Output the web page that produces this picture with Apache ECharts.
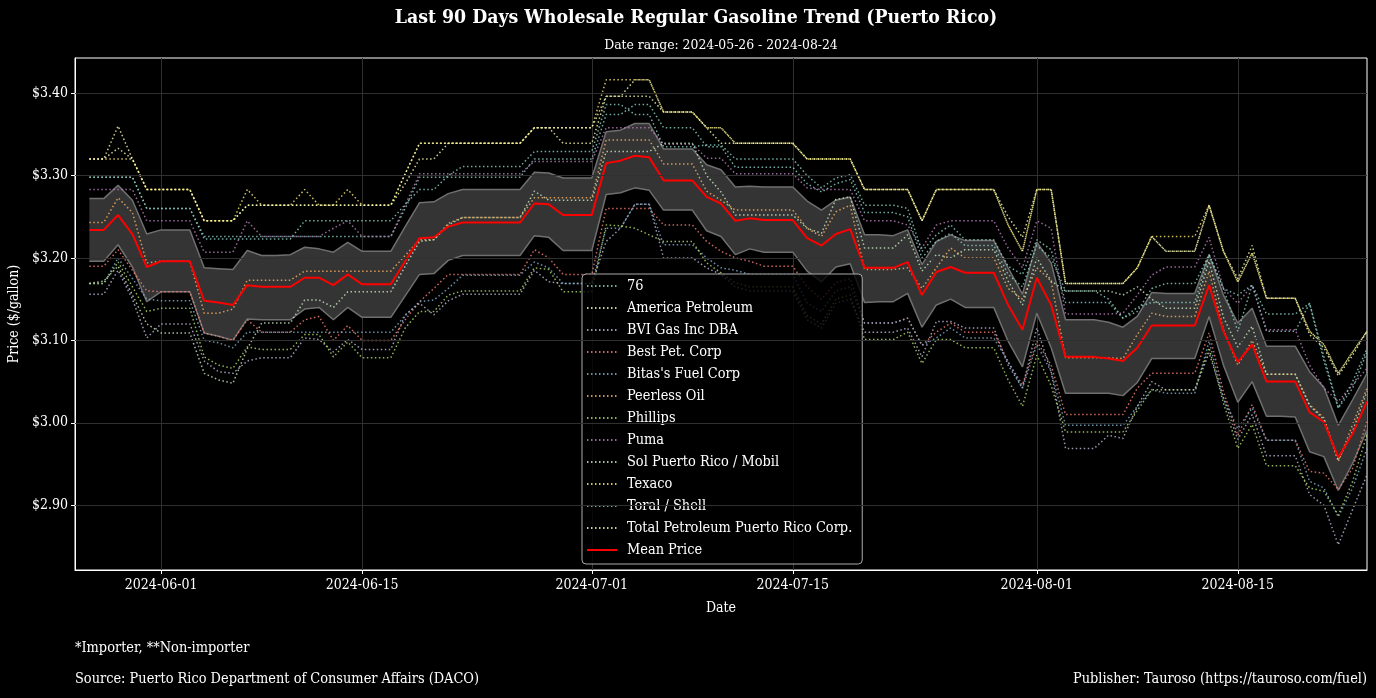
<!DOCTYPE html>
<html>
<head>
<meta charset="utf-8">
<script src="https://cdn.jsdelivr.net/npm/echarts@6/dist/echarts.min.js"></script>
<style>
  html, body { margin: 0; padding: 0; background: #000; }
  #chart { width: 1376px; height: 698px; }
</style>
</head>
<body>
<div id="chart"></div>
<script>
// days 2024-05-27 .. 2024-08-24 (the axis itself starts on 2024-05-26)
const texaco = [
  3.320,3.320,3.320,3.320,3.283,3.283,3.283,3.283,3.245,3.245,3.245,3.283,3.264,3.264,3.264,
  3.283,3.264,3.264,3.283,3.264,3.264,3.264,3.302,3.339,3.339,3.339,3.339,3.339,3.339,3.339,
  3.339,3.358,3.358,3.358,3.358,3.358,3.416,3.416,3.416,3.416,3.377,3.377,3.377,3.358,3.358,
  3.339,3.339,3.339,3.339,3.339,3.320,3.320,3.320,3.320,3.283,3.283,3.283,3.283,3.245,3.283,
  3.283,3.283,3.283,3.283,3.240,3.208,3.283,3.283,3.169,3.169,3.169,3.169,3.169,3.188,3.226,
  3.226,3.226,3.226,3.264,3.208,3.171,3.206,3.151,3.151,3.151,3.111,3.095,3.060,3.086,3.111]
const america = [
  3.320,3.320,3.360,3.320,3.283,3.283,3.283,3.283,3.245,3.245,3.245,3.264,3.264,3.264,3.264,
  3.264,3.264,3.264,3.264,3.264,3.264,3.264,3.290,3.320,3.320,3.339,3.339,3.339,3.339,3.339,
  3.339,3.358,3.358,3.339,3.339,3.339,3.396,3.396,3.416,3.416,3.377,3.377,3.377,3.358,3.358,
  3.339,3.339,3.339,3.339,3.339,3.320,3.320,3.320,3.320,3.283,3.283,3.283,3.283,3.245,3.283,
  3.283,3.283,3.283,3.283,3.250,3.225,3.283,3.283,3.169,3.169,3.169,3.169,3.169,3.188,3.226,
  3.208,3.208,3.208,3.264,3.208,3.175,3.215,3.151,3.151,3.151,3.107,3.091,3.057,3.082,3.111]
const total = [
  3.320,3.320,3.333,3.320,3.283,3.283,3.283,3.283,3.245,3.245,3.245,3.264,3.264,3.264,3.264,
  3.264,3.264,3.264,3.264,3.264,3.264,3.264,3.302,3.339,3.339,3.339,3.339,3.339,3.339,3.339,
  3.339,3.358,3.358,3.358,3.358,3.358,3.396,3.396,3.396,3.396,3.377,3.377,3.377,3.358,3.339,
  3.339,3.339,3.339,3.339,3.339,3.320,3.320,3.320,3.320,3.283,3.283,3.283,3.283,3.245,3.283,
  3.283,3.283,3.283,3.283,3.240,3.208,3.283,3.283,3.169,3.169,3.169,3.169,3.169,3.188,3.226,
  3.208,3.208,3.208,3.264,3.208,3.171,3.206,3.151,3.151,3.151,3.111,3.095,3.060,3.086,3.111]
const toral = [
  3.298,3.298,3.298,3.298,3.260,3.260,3.260,3.260,3.223,3.223,3.223,3.223,3.223,3.223,3.223,
  3.245,3.245,3.245,3.245,3.245,3.245,3.245,3.265,3.283,3.283,3.300,3.311,3.311,3.311,3.311,
  3.311,3.329,3.329,3.329,3.329,3.329,3.386,3.386,3.374,3.374,3.335,3.335,3.335,3.337,3.337,
  3.320,3.320,3.320,3.320,3.320,3.300,3.285,3.297,3.301,3.264,3.264,3.264,3.260,3.208,3.228,
  3.240,3.222,3.222,3.222,3.190,3.180,3.222,3.210,3.146,3.146,3.146,3.146,3.127,3.135,3.163,
  3.169,3.169,3.169,3.204,3.163,3.155,3.167,3.132,3.132,3.132,3.145,3.080,3.018,3.050,3.090]
const s76 = [
  3.298,3.298,3.298,3.298,3.260,3.260,3.260,3.260,3.226,3.226,3.226,3.226,3.226,3.226,3.226,
  3.226,3.226,3.226,3.226,3.226,3.226,3.226,3.260,3.298,3.298,3.298,3.298,3.298,3.298,3.298,
  3.298,3.320,3.320,3.320,3.320,3.320,3.374,3.374,3.386,3.386,3.358,3.358,3.358,3.335,3.335,
  3.310,3.310,3.310,3.310,3.310,3.290,3.280,3.290,3.295,3.255,3.255,3.255,3.250,3.200,3.220,
  3.230,3.215,3.215,3.215,3.180,3.165,3.215,3.200,3.160,3.160,3.160,3.150,3.127,3.140,3.146,
  3.146,3.146,3.146,3.204,3.163,3.111,3.167,3.111,3.111,3.111,3.145,3.075,3.018,3.042,3.086]
const puma = [
  3.283,3.283,3.283,3.283,3.245,3.245,3.245,3.245,3.207,3.207,3.207,3.245,3.226,3.226,3.226,
  3.226,3.226,3.236,3.245,3.226,3.226,3.226,3.264,3.302,3.302,3.302,3.302,3.302,3.302,3.302,
  3.302,3.317,3.317,3.317,3.317,3.317,3.358,3.358,3.358,3.358,3.338,3.338,3.338,3.321,3.321,
  3.302,3.302,3.302,3.302,3.302,3.285,3.283,3.283,3.283,3.245,3.245,3.245,3.240,3.212,3.240,
  3.245,3.245,3.245,3.245,3.212,3.188,3.245,3.236,3.132,3.132,3.132,3.132,3.133,3.155,3.179,
  3.189,3.189,3.189,3.225,3.163,3.145,3.167,3.113,3.113,3.113,3.070,3.042,3.026,3.046,3.066]
const peerless = [
  3.243,3.243,3.273,3.255,3.194,3.196,3.196,3.196,3.133,3.133,3.138,3.173,3.173,3.173,3.173,
  3.184,3.184,3.184,3.184,3.184,3.184,3.184,3.203,3.222,3.222,3.242,3.249,3.249,3.249,3.249,
  3.249,3.273,3.273,3.273,3.273,3.273,3.343,3.343,3.343,3.343,3.314,3.314,3.314,3.281,3.270,
  3.258,3.258,3.258,3.258,3.258,3.236,3.226,3.256,3.264,3.186,3.186,3.186,3.188,3.163,3.188,
  3.212,3.200,3.200,3.200,3.163,3.150,3.188,3.172,3.079,3.079,3.079,3.079,3.078,3.107,3.133,
  3.129,3.129,3.129,3.184,3.113,3.070,3.100,3.059,3.059,3.059,3.022,3.006,2.953,2.998,3.042]
const sol = [
  3.169,3.172,3.190,3.155,3.120,3.109,3.109,3.109,3.060,3.052,3.048,3.090,3.121,3.121,3.121,
  3.149,3.149,3.140,3.159,3.159,3.159,3.159,3.190,3.220,3.222,3.240,3.249,3.249,3.249,3.249,
  3.249,3.281,3.270,3.270,3.270,3.270,3.329,3.329,3.329,3.329,3.339,3.339,3.339,3.300,3.280,
  3.252,3.252,3.252,3.252,3.252,3.236,3.230,3.271,3.274,3.212,3.212,3.212,3.228,3.184,3.204,
  3.200,3.210,3.210,3.210,3.172,3.143,3.200,3.172,3.160,3.160,3.160,3.160,3.155,3.165,3.150,
  3.139,3.139,3.139,3.196,3.128,3.092,3.117,3.059,3.059,3.059,3.021,3.004,2.955,2.990,3.038]
const best = [
  3.190,3.190,3.210,3.185,3.160,3.159,3.159,3.159,3.109,3.105,3.100,3.125,3.110,3.110,3.110,
  3.125,3.129,3.100,3.118,3.100,3.100,3.100,3.125,3.147,3.163,3.180,3.180,3.180,3.180,3.180,
  3.180,3.210,3.200,3.180,3.180,3.180,3.260,3.260,3.260,3.260,3.240,3.240,3.240,3.220,3.208,
  3.200,3.196,3.190,3.190,3.190,3.165,3.150,3.170,3.175,3.121,3.121,3.121,3.127,3.094,3.110,
  3.121,3.110,3.110,3.110,3.074,3.046,3.099,3.070,3.010,3.010,3.010,3.010,3.010,3.042,3.060,
  3.060,3.060,3.060,3.109,3.038,2.985,3.022,2.979,2.979,2.979,2.941,2.939,2.919,2.945,3.002]
const bitas = [
  3.169,3.169,3.200,3.175,3.150,3.148,3.148,3.148,3.100,3.097,3.091,3.110,3.110,3.110,3.110,
  3.110,3.110,3.110,3.110,3.110,3.110,3.110,3.130,3.147,3.149,3.163,3.179,3.179,3.179,3.179,
  3.179,3.195,3.188,3.169,3.169,3.169,3.236,3.236,3.265,3.265,3.216,3.216,3.216,3.200,3.188,
  3.185,3.180,3.180,3.180,3.180,3.145,3.135,3.160,3.165,3.121,3.121,3.121,3.127,3.094,3.103,
  3.115,3.103,3.103,3.103,3.074,3.042,3.095,3.062,2.997,2.997,2.997,2.997,2.997,3.020,3.040,
  3.036,3.036,3.036,3.099,3.030,2.993,3.018,2.979,2.979,2.979,2.929,2.921,2.886,2.921,2.969]
const phillips = [
  3.169,3.169,3.195,3.165,3.135,3.139,3.139,3.139,3.080,3.070,3.066,3.092,3.089,3.089,3.089,
  3.107,3.107,3.080,3.098,3.079,3.079,3.079,3.115,3.135,3.135,3.155,3.160,3.160,3.160,3.160,
  3.160,3.188,3.186,3.159,3.159,3.159,3.240,3.239,3.236,3.228,3.220,3.220,3.220,3.194,3.182,
  3.170,3.165,3.165,3.165,3.165,3.130,3.120,3.150,3.155,3.101,3.101,3.101,3.110,3.072,3.101,
  3.101,3.091,3.091,3.091,3.052,3.020,3.082,3.045,2.989,2.989,2.989,2.989,2.989,3.015,3.040,
  3.040,3.040,3.040,3.091,3.024,2.969,2.998,2.948,2.948,2.948,2.921,2.917,2.888,2.929,2.986]
const bvi = [
  3.156,3.156,3.185,3.150,3.103,3.120,3.120,3.120,3.075,3.062,3.060,3.075,3.079,3.079,3.079,
  3.103,3.101,3.086,3.101,3.089,3.089,3.089,3.131,3.145,3.131,3.148,3.156,3.156,3.156,3.156,
  3.156,3.185,3.171,3.169,3.169,3.169,3.220,3.236,3.265,3.265,3.200,3.200,3.200,3.188,3.180,
  3.165,3.160,3.160,3.160,3.160,3.125,3.115,3.145,3.150,3.110,3.110,3.110,3.115,3.080,3.123,
  3.123,3.115,3.115,3.115,3.070,3.042,3.115,3.062,2.969,2.969,2.969,2.985,2.981,3.020,3.050,
  3.040,3.040,3.040,3.085,3.030,2.980,3.010,2.960,2.960,2.960,2.913,2.900,2.852,2.895,2.937]
const meanPrice = [
  3.234,3.234,3.252,3.229,3.189,3.196,3.196,3.196,3.148,3.146,3.143,3.167,3.165,3.165,3.165,
  3.176,3.176,3.167,3.180,3.168,3.168,3.168,3.196,3.224,3.225,3.238,3.243,3.243,3.243,3.243,
  3.243,3.266,3.265,3.252,3.252,3.252,3.315,3.318,3.324,3.322,3.294,3.294,3.294,3.274,3.266,
  3.245,3.248,3.246,3.246,3.246,3.224,3.215,3.229,3.235,3.188,3.188,3.188,3.195,3.155,3.183,
  3.189,3.182,3.182,3.182,3.143,3.113,3.176,3.143,3.080,3.080,3.080,3.078,3.075,3.091,3.118,
  3.118,3.118,3.118,3.167,3.111,3.074,3.095,3.050,3.050,3.050,3.013,3.001,2.958,2.987,3.026]
const bandUpper = [
  3.272,3.272,3.288,3.270,3.229,3.234,3.234,3.234,3.188,3.187,3.186,3.209,3.203,3.203,3.204,
  3.213,3.211,3.207,3.219,3.208,3.208,3.208,3.238,3.267,3.268,3.278,3.283,3.283,3.283,3.283,
  3.283,3.304,3.303,3.297,3.297,3.297,3.353,3.355,3.363,3.363,3.332,3.332,3.332,3.313,3.307,
  3.286,3.287,3.286,3.286,3.286,3.269,3.258,3.270,3.274,3.228,3.228,3.227,3.234,3.192,3.220,
  3.228,3.221,3.221,3.221,3.188,3.156,3.219,3.194,3.125,3.125,3.125,3.122,3.116,3.129,3.158,
  3.157,3.157,3.157,3.204,3.155,3.121,3.139,3.093,3.093,3.093,3.062,3.043,2.997,3.028,3.060]
const bandLower = [
  3.196,3.196,3.216,3.189,3.147,3.159,3.159,3.159,3.109,3.105,3.100,3.126,3.125,3.125,3.125,
  3.138,3.140,3.125,3.140,3.128,3.128,3.128,3.154,3.180,3.181,3.197,3.203,3.203,3.203,3.203,
  3.203,3.227,3.225,3.209,3.209,3.209,3.277,3.279,3.285,3.282,3.258,3.258,3.258,3.233,3.226,
  3.204,3.211,3.207,3.207,3.207,3.184,3.171,3.189,3.193,3.146,3.147,3.147,3.157,3.116,3.143,
  3.150,3.140,3.140,3.140,3.099,3.068,3.133,3.091,3.036,3.036,3.036,3.036,3.033,3.049,3.078,
  3.078,3.078,3.078,3.129,3.070,3.025,3.050,3.008,3.008,3.007,2.965,2.959,2.918,2.951,2.991]

const stationNames = ['76', 'America Petroleum', 'BVI Gas Inc DBA', 'Best Pet. Corp', "Bitas's Fuel Corp",
  'Peerless Oil', 'Phillips', 'Puma', 'Sol Puerto Rico / Mobil', 'Texaco', 'Toral / Shell',
  'Total Petroleum Puerto Rico Corp.']
const stationData = [s76, america, bvi, best, bitas, peerless, phillips, puma, sol, texaco, toral, total]
const stationColors = ['#8dd3c7', '#feffb3', '#bfbbd9', '#fa8174', '#81b1d2', '#fdb462', '#b3de69',
  '#bc82bd', '#ccebc4', '#ffed6f', '#8dd3c7', '#feffb3']
const yTicks = [2.9, 3.0, 3.1, 3.2, 3.3, 3.4]

// category axis runs 2024-05-26 .. 2024-08-24, data starts one day later
const dates = []
for (let i = 0; i < 91; i++) {
  dates.push(new Date(Date.UTC(2024, 4, 26 + i)).toISOString().slice(0, 10))
}
const pad = (arr) => ['-'].concat(arr)
const isTickDay = (idx, val) => val.endsWith('-01') || val.endsWith('-15')

const FONT = '"DejaVu Serif Condensed", "DejaVu Serif", serif'

const series = [
  {
    name: 'bandBase', type: 'line', data: pad(bandLower), stack: 'band',
    symbol: 'none', lineStyle: { opacity: 0 }, silent: true, z: 1,
    markLine: {
      silent: true, symbol: 'none', label: { show: false },
      lineStyle: { color: '#303030', width: 1, type: 'solid' },
      data: yTicks.map(v => ({ yAxis: v }))
    }
  },
  {
    name: 'bandFill', type: 'line', stack: 'band', symbol: 'none', silent: true, z: 1,
    data: pad(bandUpper.map((u, i) => +(u - bandLower[i]).toFixed(3))),
    lineStyle: { opacity: 0 }, areaStyle: { color: '#343434', opacity: 1 }
  },
  {
    name: 'bandTop', type: 'line', data: pad(bandUpper), symbol: 'none', silent: true, z: 2,
    lineStyle: { color: '#6f6f6f', width: 1.5 }
  },
  {
    name: 'bandBottom', type: 'line', data: pad(bandLower), symbol: 'none', silent: true, z: 2,
    lineStyle: { color: '#6f6f6f', width: 1.5 }
  }
]
stationNames.forEach((name, i) => {
  series.push({
    name: name, type: 'line', data: pad(stationData[i]), symbol: 'none', z: 3,
    color: stationColors[i],
    lineStyle: { color: stationColors[i], width: 1.5, type: [1.5, 2.5], opacity: 0.8 }
  })
})
series.push({
  name: 'Mean Price', type: 'line', data: pad(meanPrice), symbol: 'none', z: 4,
  color: '#ff0000', lineStyle: { color: '#ff0000', width: 2 }
})

const chart = echarts.init(document.getElementById('chart'))
chart.setOption({
  backgroundColor: '#000',
  animation: false,
  textStyle: { fontFamily: FONT, color: '#fff' },
  grid: {
    left: 75, right: 9, top: 58, bottom: 128,
    containLabel: false, outerBoundsMode: 'none',
    show: true, borderColor: '#fff', borderWidth: 1, backgroundColor: 'transparent'
  },
  legend: {
    orient: 'vertical', left: 582, top: 274,
    data: stationNames.concat(['Mean Price']),
    itemWidth: 30, itemHeight: 14, itemGap: 8,
    padding: [5, 10, 7, 4],
    itemStyle: { opacity: 0 },
    backgroundColor: 'rgba(0,0,0,0.8)', borderColor: '#aaa', borderWidth: 1, borderRadius: 4,
    textStyle: { color: '#fff', fontSize: 14.4, lineHeight: 14, fontFamily: FONT, padding: [0, 0, 0, 5] },
    selectedMode: false
  },
  xAxis: {
    type: 'category', data: dates, boundaryGap: false,
    name: 'Date', nameLocation: 'middle', nameGap: 31,
    nameTextStyle: { color: '#fff', fontSize: 14, fontFamily: FONT },
    axisLine: { lineStyle: { color: '#fff' } },
    axisTick: { interval: isTickDay, length: 4, lineStyle: { color: '#fff' } },
    axisLabel: { interval: isTickDay, color: '#fff', fontSize: 14, margin: 8, fontFamily: FONT },
    splitLine: { show: true, interval: isTickDay, lineStyle: { color: '#303030', width: 1 } }
  },
  yAxis: {
    type: 'value', min: 2.8215, max: 3.4425,
    name: 'Price ($/gallon)', nameLocation: 'middle', nameGap: 46, nameRotate: 90,
    nameTextStyle: { color: '#fff', fontSize: 14, fontFamily: FONT },
    axisLine: { show: true, lineStyle: { color: '#fff' } },
    axisTick: { show: true, length: 4, customValues: yTicks, lineStyle: { color: '#fff' } },
    axisLabel: {
      color: '#fff', fontSize: 14, margin: 7, fontFamily: FONT, customValues: yTicks,
      formatter: v => '$' + v.toFixed(2)
    },
    splitLine: { show: false }
  },
  graphic: [
    { type: 'text', x: 696, y: 18, style: { text: 'Last 90 Days Wholesale Regular Gasoline Trend (Puerto Rico)', fill: '#fff', font: 'bold 19.3px ' + FONT, align: 'center', verticalAlign: 'middle' } },
    { type: 'text', x: 721, y: 45, style: { text: 'Date range: 2024-05-26 - 2024-08-24', fill: '#fff', font: '13.8px ' + FONT, align: 'center', verticalAlign: 'middle' } },
    { type: 'text', x: 75, y: 648, style: { text: '*Importer, **Non-importer', fill: '#fff', font: '14.4px ' + FONT, align: 'left', verticalAlign: 'middle' } },
    { type: 'text', x: 75, y: 679, style: { text: 'Source: Puerto Rico Department of Consumer Affairs (DACO)', fill: '#fff', font: '14.4px ' + FONT, align: 'left', verticalAlign: 'middle' } },
    { type: 'text', x: 1367, y: 679, style: { text: 'Publisher: Tauroso (https://tauroso.com/fuel)', fill: '#fff', font: '14.4px ' + FONT, align: 'right', verticalAlign: 'middle' } }
  ],
  series: series
})
</script>
</body>
</html>
